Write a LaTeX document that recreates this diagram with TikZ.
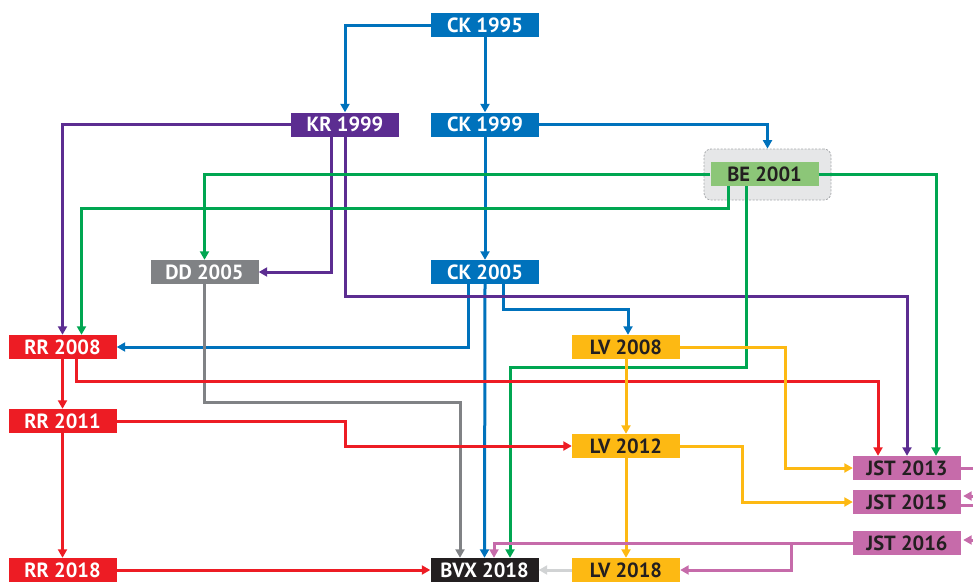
\documentclass[tikz,border=0pt]{standalone}
\usepackage{fontspec}
\setmainfont{PT Sans}
\usetikzlibrary{arrows.meta}

\definecolor{cblue}{HTML}{0072BC}
\definecolor{cpurple}{HTML}{5C2D91}
\definecolor{cgreen}{HTML}{00A651}
\definecolor{cred}{HTML}{ED1C24}
\definecolor{cgray}{HTML}{808285}
\definecolor{cyellow}{HTML}{FDB913}
\definecolor{cpink}{HTML}{C66BAA}
\definecolor{cblack}{HTML}{231F20}
\definecolor{clight}{HTML}{D1D3D4}
\definecolor{cbe}{HTML}{8CC678}
\definecolor{cbebg}{HTML}{E6E7E8}
\definecolor{cbeedge}{HTML}{A7A9AC}

\tikzset{
  box/.style={minimum width=108pt, minimum height=24pt, inner sep=0pt,
    font=\fontsize{20.5pt}{20pt}\selectfont\bfseries, text=white},
  darkbox/.style={box, text=cblack},
  con/.style={line width=3pt, -{Triangle[length=8.5pt,width=9pt]}},
  stub/.style={line width=3pt},
}

\begin{document}
\begin{tikzpicture}[x=1pt,y=-1pt]
  \clip (0,0) rectangle (973,581);
  \useasboundingbox (0,0) rectangle (973,581);

  % highlighted group behind BE 2001
  \node[draw=cbeedge, dashed, dash pattern=on 2pt off 1.5pt, line width=0.8pt,
        fill=cbebg, rounded corners=7pt, minimum width=127pt, minimum height=51pt,
        inner sep=0pt] (bebg) at (767.5,174.5) {};

  % nodes
  \node[box, fill=cblue]   (ck95)  at (485,25)  {CK 1995};
  \node[box, fill=cpurple] (kr99)  at (345,124.5) {KR 1999};
  \node[box, fill=cblue]   (ck99)  at (485,124.5) {CK 1999};
  \node[darkbox, fill=cbe] (be)    at (764.5,174) {BE 2001};
  \node[box, fill=cgray]   (dd05)  at (204.5,272) {DD 2005};
  \node[box, fill=cblue]   (ck05)  at (485,272) {CK 2005};
  \node[box, fill=cred]    (rr08)  at (62.5,347) {RR 2008};
  \node[darkbox, fill=cyellow] (lv08) at (626,347) {LV 2008};
  \node[box, fill=cred]    (rr11)  at (62.5,421) {RR 2011};
  \node[darkbox, fill=cyellow] (lv12) at (626,446) {LV 2012};
  \node[darkbox, fill=cpink] (jst13) at (907,468) {JST 2013};
  \node[darkbox, fill=cpink] (jst15) at (907,502) {JST 2015};
  \node[darkbox, fill=cpink] (jst16) at (907,543) {JST 2016};
  \node[box, fill=cred]    (rr18)  at (62.5,570) {RR 2018};
  \node[box, fill=cblack]  (bvx)   at (484.5,570) {BVX 2018};
  \node[darkbox, fill=cyellow] (lv18) at (626,570) {LV 2018};

  % links arriving from beyond the right edge
  \coordinate (in15) at (990,496);
  \coordinate (in16) at (990,540);

  % blue: CK lineage
  \draw[con, cblue] (ck95.west) -| (kr99.north);
  \draw[con, cblue] (ck95.south) -- (ck99.north);
  \draw[con, cblue] (ck99.east) -| (bebg.north);
  \draw[con, cblue] (ck99.south) -- (ck05.north);
  \draw[con, cblue] ([xshift=-17pt]ck05.south) |- (rr08.east);
  \draw[con, cblue] ([xshift=18pt]ck05.south) -- ++(0,25) -| ([xshift=2pt]lv08.north);
  \draw[con, cblue] (ck05.south) -- (bvx.north);

  % purple: KR 1999
  \draw[con, cpurple] (kr99.west) -| (rr08.north);
  \draw[con, cpurple] ([xshift=-14pt]kr99.south) |- (dd05.east);
  \draw[con, cpurple] (kr99.south) -- ++(0,160) -| (jst13.north);

  % green: BE 2001
  \draw[con, cgreen] (be.west) -| (dd05.north);
  \draw[con, cgreen] ([xshift=-36pt]be.south) -- ++(0,22) -| ([xshift=19pt]rr08.north);
  \draw[con, cgreen] ([xshift=-18pt]be.south) -- ++(0,181) -| ([xshift=25.5pt]bvx.north);
  \draw[con, cgreen] (be.east) -| ([xshift=29pt]jst13.north);

  % grey: DD 2005
  \draw[con, cgray] (dd05.south) -- ++(0,118) -| ([xshift=-24.5pt]bvx.north);

  % red: RR lineage
  \draw[con, cred] (rr08.south) -- (rr11.north);
  \draw[con, cred] ([xshift=14pt]rr08.south) -- ++(0,22) -| ([xshift=-29pt]jst13.north);
  \draw[con, cred] (rr11.east) -- ++(229,0) |- (lv12.west);
  \draw[con, cred] (rr11.south) -- (rr18.north);
  \draw[con, cred] (rr18.east) -- (bvx.west);

  % yellow: LV lineage
  \draw[con, cyellow] (lv08.south) -- (lv12.north);
  \draw[con, cyellow] (lv12.south) -- (lv18.north);
  \draw[con, cyellow] (lv08.east) -- ++(105,0) |- (jst13.west);
  \draw[con, cyellow] (lv12.east) -- ++(62,0) |- (jst15.west);

  % pink: JST
  \draw[con, cpink] (jst16.west) -| ([xshift=9.5pt]bvx.north);
  \draw[con, cpink] ([xshift=-61pt]jst16.west) |- (lv18.east);
  \draw[stub, cpink] (jst13.east) -- ++(20,0);
  \draw[stub, cpink] ([yshift=-3pt]jst15.east) -- ++(20,0);
  \draw[con, cpink] (in15) -- ([xshift=2pt,yshift=6pt]jst15.east);
  \draw[con, cpink] (in16) -- ([xshift=2pt,yshift=3pt]jst16.east);

  % light grey: LV 2018 into BVX 2018
  \draw[con, clight] (lv18.west) -- (bvx.east);
\end{tikzpicture}
\end{document}
